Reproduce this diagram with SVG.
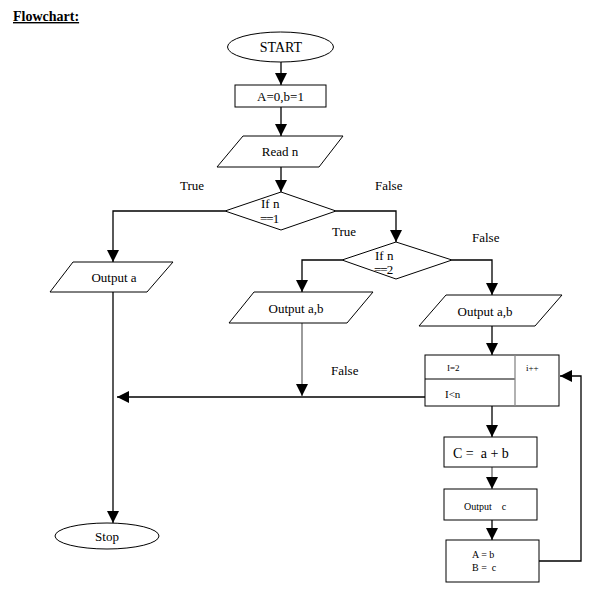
<svg xmlns="http://www.w3.org/2000/svg" width="597" height="591" viewBox="0 0 597 591">
<defs>
<marker id="arr" markerUnits="userSpaceOnUse" markerWidth="12" markerHeight="12" refX="12" refY="6" orient="auto">
<path d="M0,0 L12,6 L0,12 z" fill="#000"/>
</marker>
<style>
.s{fill:#fff;stroke:#000;stroke-width:1}
.c{fill:none;stroke:#000;stroke-width:1.3}
.g{stroke:#666}
text{font-family:"Liberation Serif","Times New Roman",serif;fill:#000}
.t{font-size:13px}
.m{text-anchor:middle}
.sm{font-size:9px}
</style>
</defs>
<rect width="597" height="591" fill="#fff"/>
<text x="13" y="21" font-size="14" font-weight="bold" text-decoration="underline">Flowchart:</text>

<g id="connectors">
<path class="c" d="M281,62 V85" marker-end="url(#arr)"/>
<path class="c" d="M281,107 V136" marker-end="url(#arr)"/>
<path class="c" d="M281,167 V192" marker-end="url(#arr)"/>
<path class="c" d="M225,211 H113 V262" marker-end="url(#arr)"/>
<path class="c" d="M336,211 H396 V242" marker-end="url(#arr)"/>
<path class="c" d="M342,260 H302 V292" marker-end="url(#arr)"/>
<path class="c" d="M452,260 H492 V295" marker-end="url(#arr)"/>
<path class="c" d="M113,292 V523" marker-end="url(#arr)"/>
<path class="c g" d="M302,323 V396" marker-end="url(#arr)"/>
<path class="c" d="M425,397 H117" marker-end="url(#arr)"/>
<path class="c" d="M492,326 V355" marker-end="url(#arr)"/>
<path class="c" d="M492,406 V437" marker-end="url(#arr)"/>
<path class="c g" d="M492,467 V489" marker-end="url(#arr)"/>
<path class="c" d="M492,520 V540" marker-end="url(#arr)"/>
<path class="c" d="M539,561 H581 V376 H560" marker-end="url(#arr)"/>
<text class="t" x="180" y="190">True</text>
<text class="t" x="375" y="190">False</text>
<text class="t" x="332" y="236">True</text>
<text class="t" x="472" y="242">False</text>
<text class="t" x="331" y="375">False</text>
</g>

<g id="start">
<ellipse class="s" cx="280.5" cy="47" rx="53" ry="15"/>
<text class="m" x="281" y="52" font-size="14">START</text>
</g>

<g id="init">
<rect class="s" x="235" y="85" width="91" height="22"/>
<text class="t m" x="280.5" y="101">A=0,b=1</text>
</g>

<g id="read">
<polygon class="s" points="243,136 343,136 319,167 217,167"/>
<text class="t m" x="280" y="156">Read n</text>
</g>

<g id="if1">
<polygon class="s" points="281,192 336,211 281,230 225,211"/>
<text class="t" x="261" y="208">If n</text>
<text class="t" x="260" y="223" letter-spacing="-1">==1</text>
</g>

<g id="if2">
<polygon class="s" points="396,242 452,260 396,279 342,260"/>
<text class="t" x="375" y="260">If n</text>
<text class="t" x="374" y="274" letter-spacing="-1">==2</text>
</g>

<g id="outa">
<polygon class="s" points="73,262 173,262 147,292 50,292"/>
<text class="t m" x="114" y="282">Output a</text>
</g>

<g id="outab1">
<polygon class="s" points="254,292 373,292 347,323 229,323"/>
<text class="t m" x="296" y="313">Output a,b</text>
</g>

<g id="outab2">
<polygon class="s" points="446,295 562,295 535,326 419,326"/>
<text class="t m" x="485" y="316">Output a,b</text>
</g>

<g id="loop">
<rect class="s" x="425" y="355" width="134" height="51"/>
<line x1="425" y1="379" x2="515" y2="379" stroke="#000" stroke-width="1"/>
<line x1="515" y1="355" x2="515" y2="406" stroke="#888" stroke-width="1.3"/>
<text class="sm" x="447" y="371">I=2</text>
<text class="sm" x="526" y="371">i++</text>
<text x="445" y="398" font-size="11">I&lt;n</text>
</g>

<g id="calc">
<rect class="s" x="444" y="437" width="93" height="30"/>
<text x="453" y="458" font-size="14" xml:space="preserve">C =  a + b</text>
</g>

<g id="outc">
<rect class="s" x="444" y="489" width="93" height="31"/>
<text x="464" y="510" font-size="10" xml:space="preserve">Output    c</text>
</g>

<g id="swap">
<rect class="s" x="446" y="540" width="93" height="42"/>
<text x="472" y="558" font-size="10">A = b</text>
<text x="472" y="571" font-size="10" xml:space="preserve">B =  c</text>
</g>

<g id="stop">
<ellipse class="s" cx="107" cy="536" rx="52" ry="13"/>
<text class="t m" x="107" y="541">Stop</text>
</g>
</svg>
